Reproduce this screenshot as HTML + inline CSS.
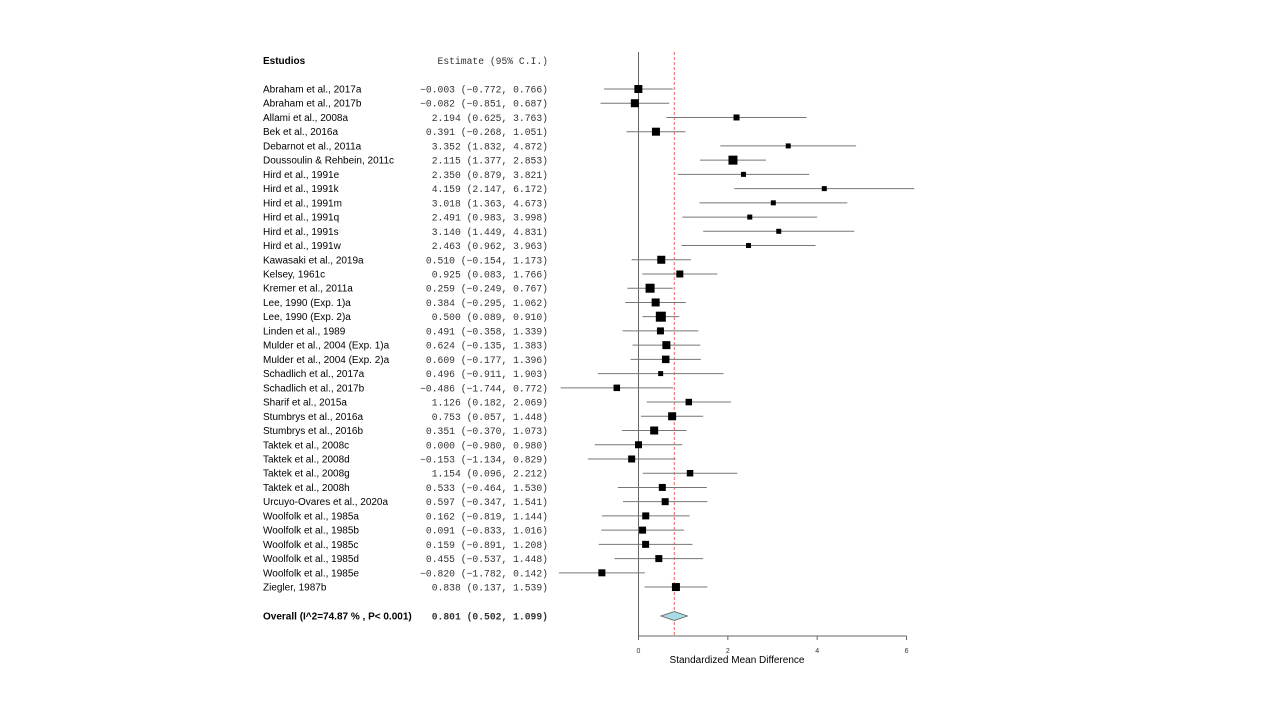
<!DOCTYPE html>
<html><head><meta charset="utf-8"><style>
body{margin:0;background:#fff;width:1280px;height:720px;overflow:hidden}
svg{display:block}
.l{font-family:"Liberation Sans",sans-serif;font-size:10px;fill:#000}
.m{font-family:"Liberation Mono",monospace;font-size:9.7px;fill:#333}
</style></head><body>
<svg id="c" width="1280" height="720">
<text x="263" y="64" class="l" font-weight="bold">Estudios</text>
<text x="548" y="64" class="m" text-anchor="end">Estimate (95% C.I.)</text>
</svg>
<script>
const studies=["Abraham et al., 2017a","Abraham et al., 2017b","Allami et al., 2008a","Bek et al., 2016a","Debarnot et al., 2011a","Doussoulin & Rehbein, 2011c","Hird et al., 1991e","Hird et al., 1991k","Hird et al., 1991m","Hird et al., 1991q","Hird et al., 1991s","Hird et al., 1991w","Kawasaki et al., 2019a","Kelsey, 1961c","Kremer et al., 2011a","Lee, 1990 (Exp. 1)a","Lee, 1990 (Exp. 2)a","Linden et al., 1989","Mulder et al., 2004 (Exp. 1)a","Mulder et al., 2004 (Exp. 2)a","Schadlich et al., 2017a","Schadlich et al., 2017b","Sharif et al., 2015a","Stumbrys et al., 2016a","Stumbrys et al., 2016b","Taktek et al., 2008c","Taktek et al., 2008d","Taktek et al., 2008g","Taktek et al., 2008h","Urcuyo-Ovares et al., 2020a","Woolfolk et al., 1985a","Woolfolk et al., 1985b","Woolfolk et al., 1985c","Woolfolk et al., 1985d","Woolfolk et al., 1985e","Ziegler, 1987b"];
const est=[-0.003,-0.082,2.194,0.391,3.352,2.115,2.350,4.159,3.018,2.491,3.140,2.463,0.510,0.925,0.259,0.384,0.500,0.491,0.624,0.609,0.496,-0.486,1.126,0.753,0.351,0.000,-0.153,1.154,0.533,0.597,0.162,0.091,0.159,0.455,-0.820,0.838];
const lo=[-0.772,-0.851,0.625,-0.268,1.832,1.377,0.879,2.147,1.363,0.983,1.449,0.962,-0.154,0.083,-0.249,-0.295,0.089,-0.358,-0.135,-0.177,-0.911,-1.744,0.182,0.057,-0.370,-0.980,-1.134,0.096,-0.464,-0.347,-0.819,-0.833,-0.891,-0.537,-1.782,0.137];
const hi=[0.766,0.687,3.763,1.051,4.872,2.853,3.821,6.172,4.673,3.998,4.831,3.963,1.173,1.766,0.767,1.062,0.910,1.339,1.383,1.396,1.903,0.772,2.069,1.448,1.073,0.980,0.829,2.212,1.530,1.541,1.144,1.016,1.208,1.448,0.142,1.539];
const boxSize=[8,8,6,8,5,9,5,5,5,5,5,5,8,7,9,8,10,7,8,7.5,5,6.5,6.5,8,8,7,7,6.5,7,7,7,7,7,7,7,8];
const overall=[0.801,0.502,1.099];
const ticks=[0,2,4,6];
const svg=document.getElementById('c');const NS='http://www.w3.org/2000/svg';
const X=v=>638.5+v*44.67;const Y=i=>89+i*14.23;
function mk(t,a,name,txt){const e=document.createElementNS(NS,t);for(const k in a)e.setAttribute(k,a[k]);


if(txt!==undefined)e.textContent=txt;svg.appendChild(e);return e;}
const f=v=>(v<0?'\u2212':'')+Math.abs(v).toFixed(3);
mk('line',{x1:X(0),x2:X(0),y1:52,y2:636,stroke:'#666','stroke-width':1},'zero-line');
mk('line',{x1:X(overall[0]),x2:X(overall[0]),y1:52,y2:636,stroke:'#f06060','stroke-width':1,'stroke-dasharray':'3,2'},'overall-effect-line');
studies.forEach((s,i)=>{const y=Y(i);
mk('text',{x:263,y:y+3.5,class:'l'},'study-label',s);
mk('text',{x:548,y:y+3.5,class:'m','text-anchor':'end','xml:space':'preserve'},'study-estimate',f(est[i]).padStart(6,' ')+' ('+f(lo[i])+', '+f(hi[i])+')');
mk('line',{x1:X(lo[i]),x2:X(hi[i]),y1:y,y2:y,stroke:'#777','stroke-width':1},'ci-line');
const b=boxSize[i];mk('rect',{x:X(est[i])-b/2,y:y-b/2,width:b,height:b,fill:'#000'},'effect-box');});
const oy=616;
mk('text',{x:263,y:oy+3.5,class:'l','font-weight':'bold'},'overall-label','Overall (I^2=74.87 % , P< 0.001)');
mk('text',{x:548,y:oy+3.5,class:'m','text-anchor':'end','font-weight':'bold','xml:space':'preserve'},'overall-estimate',' '+f(overall[0])+'  ('+f(overall[1])+', '+f(overall[2])+')');
mk('polygon',{points:`${X(overall[1])},${oy} ${X(overall[0])},${oy-4.5} ${X(overall[2])},${oy} ${X(overall[0])},${oy+4.5}`,fill:'#a8dbe6',stroke:'#555','stroke-width':0.7},'overall-diamond');
mk('line',{x1:X(0),x2:X(6),y1:636,y2:636,stroke:'#666'},'x-axis');
ticks.forEach(t=>{mk('line',{x1:X(t),x2:X(t),y1:636,y2:640,stroke:'#666'},'x-tick');
mk('text',{x:X(t),y:653,'font-family':'Liberation Sans, sans-serif','font-size':7,fill:'#333','text-anchor':'middle'},'x-tick-label',String(t));});
mk('text',{x:737,y:663,class:'l','font-size':9,'text-anchor':'middle'},'x-axis-title','Standardized Mean Difference');
</script>
</body></html>
